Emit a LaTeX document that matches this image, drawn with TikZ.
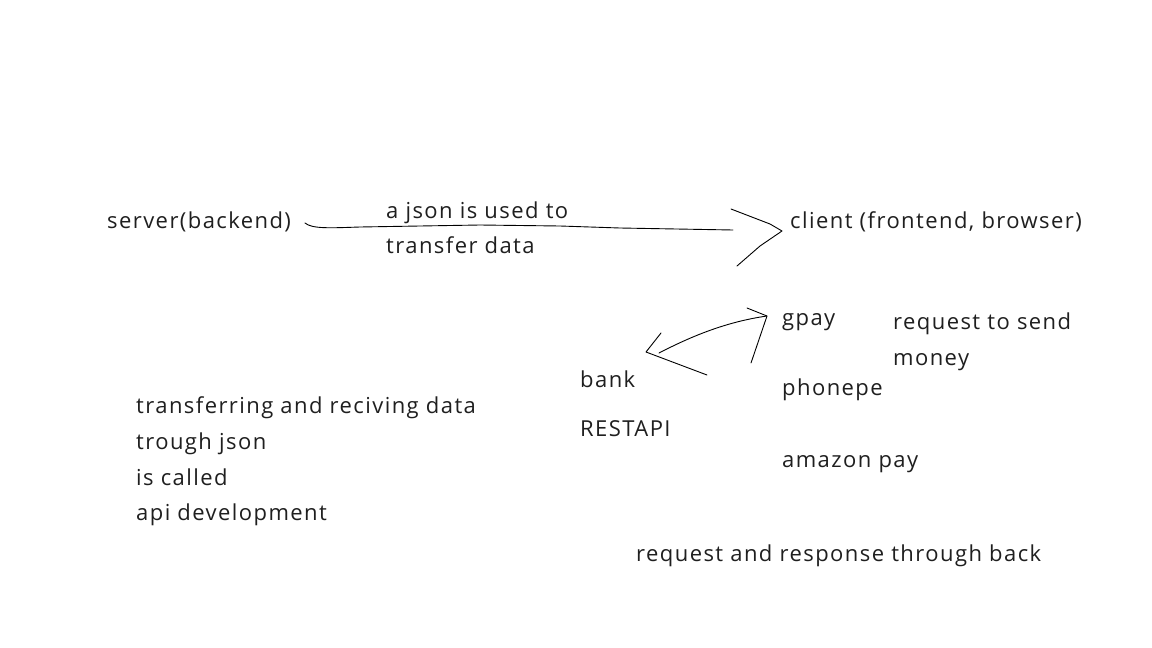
\documentclass[tikz,border=0pt]{standalone}
\usepackage{fontspec}
\setmainfont[LetterSpace=6.5]{Open Sans}
\begin{document}
\begin{tikzpicture}[x=1pt,y=-1pt,
  lbl/.style={anchor=base west,inner sep=0pt,font=\fontsize{22}{26}\selectfont,text=black!88},
  stroke/.style={line width=0.9pt,line cap=round,line join=round}]
\useasboundingbox[fill=white] (0,0) rectangle (1152,648);
% texts
\node[lbl] (server) at (107,228) {server(backend)};
\node[lbl] (json1) at (386,218) {a json is used to};
\node[lbl] (json2) at (386,253) {transfer data};
\node[lbl] (client) at (790,228) {client (frontend, browser)};
\node[lbl] (gpay) at (782,325) {gpay};
\node[lbl] (req1) at (893,329) {request to send};
\node[lbl] (req2) at (893,365) {money};
\node[lbl] (bank) at (580,387) {bank};
\node[lbl] (phonepe) at (782,395) {phonepe};
\node[lbl] (restapi) at (580,436) {RESTAPI};
\node[lbl] (amazon) at (782,467) {amazon pay};
\node[lbl] (t1) at (136,413) {transferring and reciving data};
\node[lbl] (t2) at (136,449) {trough json};
\node[lbl] (t3) at (136,485) {is called};
\node[lbl] (t4) at (136,520) {api development};
\node[lbl] (resp) at (636,561) {request and response through back};
% arrow server -> client
\coordinate (a1s) at (305,223);
\coordinate (a1e) at (733,230);
\coordinate (a1tip) at (782,231);
\coordinate (a1u) at (731,209);
\coordinate (a1l) at (737,266);
\draw[stroke] (a1s) .. controls (312,229) and (330,228) .. (360,227)
  -- (480,225) -- (560,226) -- (620,228) -- (a1e);
\draw[stroke] (a1u) -- (770,224) -- (a1tip) -- (760,246) -- (a1l);
% arrow bank <-> gpay
\coordinate (a2s) at (659,353);
\coordinate (a2e) at (767,316);
\coordinate (a2bt) at (646,352);
\draw[stroke] (a2s) .. controls (690,337) and (725,322) .. (a2e);
\draw[stroke] (747,308) -- (a2e) -- (751,363);
\draw[stroke] (661,333) -- (a2bt) -- (707,375);
\end{tikzpicture}
\end{document}
